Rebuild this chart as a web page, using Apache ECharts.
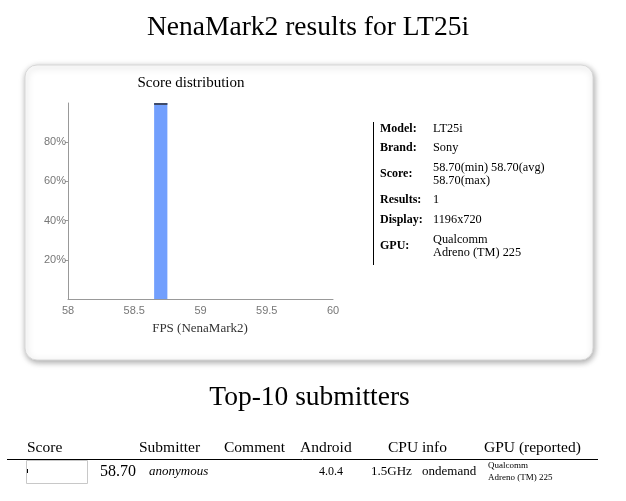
<!DOCTYPE html>
<html><head><meta charset="utf-8">
<script src="https://cdn.jsdelivr.net/npm/echarts@6/dist/echarts.min.js"></script>
<style>html,body{margin:0;padding:0;background:#fff}#c{width:626px;height:501px}</style>
</head><body><div id="c"></div>
<script>
// ---- data ----
var binStarts = [58.65];
var binEnds = [58.75];
var binPercents = [100];
var xTicks = [58, 58.5, 59, 59.5, 60];
var yTickValues = [20, 40, 60, 80];
var infoLabels = ['Model:', 'Brand:', 'Score:', 'Results:', 'Display:', 'GPU:'];
var infoValues = ['LT25i', 'Sony', '58.70(min) 58.70(avg)\n58.70(max)', '1', '1196x720', 'Qualcomm\nAdreno (TM) 225'];
var tableHeaders = ['Score', 'Submitter', 'Comment', 'Android', 'CPU info', 'GPU (reported)'];
var rowScore = ['58.70'];
var rowSubmitter = ['anonymous'];
var rowComment = [''];
var rowAndroid = ['4.0.4'];
var rowCpuFreq = ['1.5GHz'];
var rowGovernor = ['ondemand'];
var rowGpu = ['Qualcomm\nAdreno (TM) 225'];

var SERIF = '"Liberation Serif","Times New Roman",serif';
var SANS = '"Liberation Sans",Arial,sans-serif';

var chart = echarts.init(document.getElementById('c'), null, {renderer: 'canvas'});

var graphics = [];
// card
graphics.push({type: 'rect', z: -10, shape: {x: 25, y: 65, width: 568, height: 295, r: 12},
  style: {fill: '#fff', stroke: '#d8d8d8', lineWidth: 1, shadowBlur: 6, shadowOffsetX: 1, shadowOffsetY: 2, shadowColor: 'rgba(0,0,0,0.35)'}});
// titles
graphics.push({type: 'text', x: 308, y: 28, style: {text: 'NenaMark2 results for LT25i', font: '27.5px ' + SERIF, fill: '#000', align: 'center', verticalAlign: 'middle'}});
graphics.push({type: 'text', x: 191, y: 83, style: {text: 'Score distribution', font: '15px ' + SERIF, fill: '#000', align: 'center', verticalAlign: 'middle'}});
graphics.push({type: 'text', x: 200, y: 329, style: {text: 'FPS (NenaMark2)', font: '13px ' + SERIF, fill: '#333', align: 'center', verticalAlign: 'middle'}});
// info panel
graphics.push({type: 'line', shape: {x1: 373.5, y1: 122, x2: 373.5, y2: 265}, style: {stroke: '#000', lineWidth: 1}});
var infoY = [129, 148, 174, 200, 220, 246];
for (var i = 0; i < infoLabels.length; i++) {
  graphics.push({type: 'text', x: 380, y: infoY[i], style: {text: infoLabels[i], font: 'bold 12px ' + SERIF, fill: '#000', verticalAlign: 'middle'}});
  graphics.push({type: 'text', x: 433, y: infoY[i], style: {text: infoValues[i], font: '12.3px ' + SERIF, fill: '#000', verticalAlign: 'middle', lineHeight: 13}});
}
// Top-10
graphics.push({type: 'text', x: 309.5, y: 398, style: {text: 'Top-10 submitters', font: '27.5px ' + SERIF, fill: '#000', align: 'center', verticalAlign: 'middle'}});
var headerX = [27, 139, 224, 300, 388, 484];
for (var h = 0; h < tableHeaders.length; h++) {
  graphics.push({type: 'text', x: headerX[h], y: 448, style: {text: tableHeaders[h], font: '15.5px ' + SERIF, fill: '#000', verticalAlign: 'middle'}});
}
graphics.push({type: 'line', shape: {x1: 7, y1: 459.5, x2: 598, y2: 459.5}, style: {stroke: '#000', lineWidth: 1}});
for (var r = 0; r < rowScore.length; r++) {
  var ry = 472;
  graphics.push({type: 'rect', shape: {x: 26.5, y: 460.5, width: 61, height: 23}, style: {fill: '#fff', stroke: '#c8c8c8', lineWidth: 1}});
  graphics.push({type: 'rect', shape: {x: 27, y: 469, width: 1, height: 4}, style: {fill: '#000'}});
  graphics.push({type: 'text', x: 100, y: ry, style: {text: rowScore[r], font: '16px ' + SERIF, fill: '#000', verticalAlign: 'middle'}});
  graphics.push({type: 'text', x: 149, y: ry, style: {text: rowSubmitter[r], font: 'italic 13px ' + SERIF, fill: '#000', verticalAlign: 'middle'}});
  graphics.push({type: 'text', x: 224, y: ry, style: {text: rowComment[r], font: '12px ' + SERIF, fill: '#000', verticalAlign: 'middle'}});
  graphics.push({type: 'text', x: 319, y: ry, style: {text: rowAndroid[r], font: '12px ' + SERIF, fill: '#000', verticalAlign: 'middle'}});
  graphics.push({type: 'text', x: 371, y: ry, style: {text: rowCpuFreq[r], font: '13px ' + SERIF, fill: '#000', verticalAlign: 'middle'}});
  graphics.push({type: 'text', x: 422, y: ry, style: {text: rowGovernor[r], font: '13px ' + SERIF, fill: '#000', verticalAlign: 'middle'}});
  graphics.push({type: 'text', x: 488, y: ry, style: {text: rowGpu[r], font: '9px ' + SERIF, fill: '#000', verticalAlign: 'middle', lineHeight: 12}});
}

var barData = binStarts.map(function (s, i) { return [s, binEnds[i], binPercents[i]]; });

chart.setOption({
  animation: false,
  grid: {left: 68, right: 293, top: 103, bottom: 202, containLabel: false},
  xAxis: {
    type: 'value', min: xTicks[0], max: xTicks[xTicks.length - 1], interval: 0.5,
    axisLine: {show: true, lineStyle: {color: '#999', width: 1}},
    axisTick: {show: false},
    splitLine: {show: false},
    axisLabel: {color: '#777', fontFamily: SANS, fontSize: 11, margin: 6}
  },
  yAxis: {
    type: 'value', min: 0, max: 100, interval: 20,
    axisLine: {show: true, lineStyle: {color: '#999', width: 1}},
    axisTick: {show: true, length: 3, lineStyle: {color: '#999'}, customValues: yTickValues},
    splitLine: {show: false},
    axisLabel: {color: '#777', fontFamily: SANS, fontSize: 11, margin: 2, customValues: yTickValues,
      formatter: function (v) { return v + '%'; }}
  },
  series: [{
    type: 'custom',
    data: barData,
    encode: {x: [0, 1], y: 2},
    renderItem: function (params, api) {
      var p0 = api.coord([api.value(0), api.value(2)]);
      var p1 = api.coord([api.value(1), 0]);
      return {type: 'group', children: [
        {type: 'rect', shape: {x: p0[0], y: p0[1], width: p1[0] - p0[0], height: p1[1] - p0[1]}, style: {fill: '#729ffd'}},
        {type: 'rect', shape: {x: p0[0], y: p0[1], width: p1[0] - p0[0], height: 2}, style: {fill: '#3e4a68'}}
      ]};
    }
  }],
  graphic: graphics
});
</script></body></html>
